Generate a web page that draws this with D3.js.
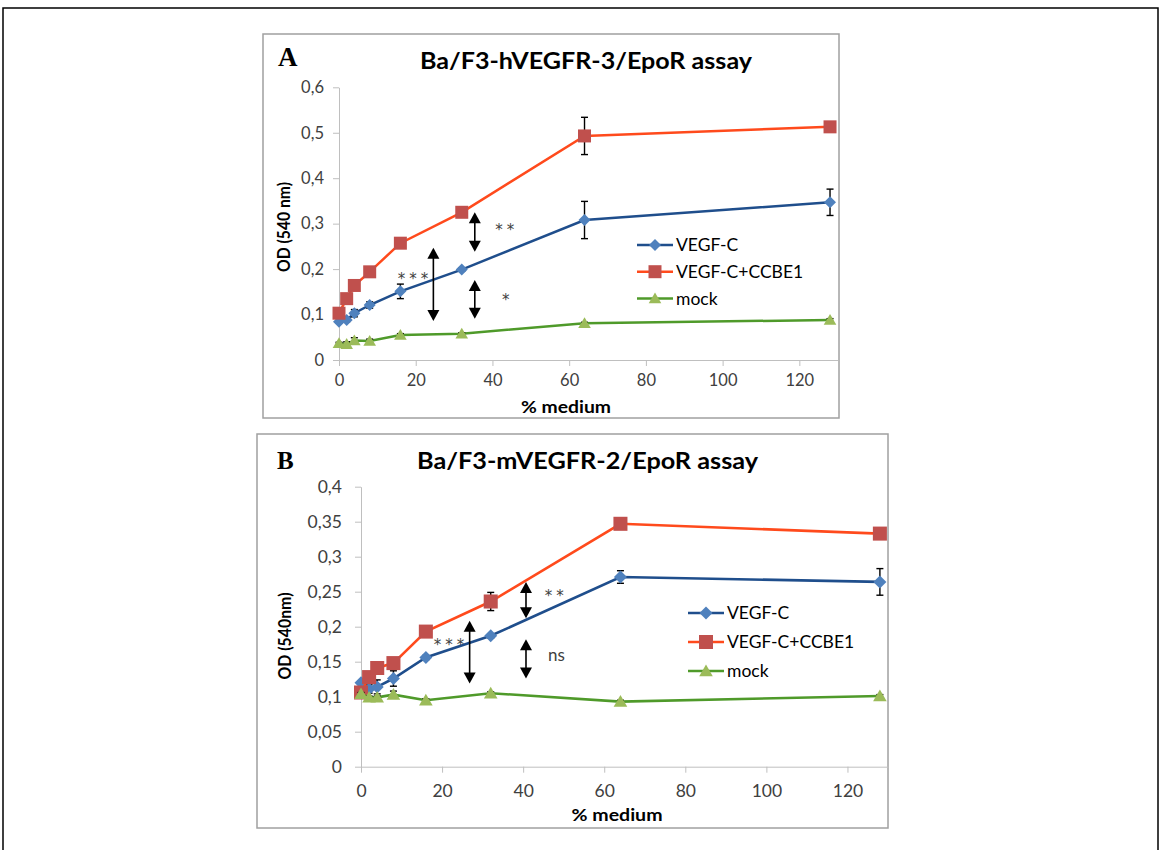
<!DOCTYPE html>
<html>
<head>
<meta charset="utf-8">
<script src="https://cdn.jsdelivr.net/npm/d3@7"></script>
<style>
  body { margin: 0; background: #fff; }
  svg { display: block; }
  text { font-family: Lato, "Open Sans", sans-serif; }
</style>
</head>
<body>
<svg id="chart" width="1161" height="850"></svg>
<script>
const doses = [0, 2, 4, 8, 16, 32, 64, 128];
const seriesNames = ["VEGF-C", "VEGF-C+CCBE1", "mock"];
const xTicks = [0, 20, 40, 60, 80, 100, 120];

// panel A : Ba/F3-hVEGFR-3/EpoR
const aVegfc = [0.084, 0.088, 0.103, 0.121, 0.151, 0.199, 0.308, 0.347];
const aVegfcErr = [0.003, 0.004, 0.008, 0.007, 0.016, 0.004, 0.041, 0.029];
const aCcbe1 = [0.103, 0.135, 0.164, 0.194, 0.257, 0.325, 0.493, 0.513];
const aCcbe1Err = [0.004, 0.004, 0.004, 0.004, 0.004, 0.004, 0.041, 0.004];
const aMock = [0.037, 0.035, 0.043, 0.042, 0.055, 0.058, 0.081, 0.088];
const aMockErr = [0.002, 0.005, 0.006, 0.004, 0.003, 0.002, 0.002, 0.003];
const aYTicks = [0, 0.1, 0.2, 0.3, 0.4, 0.5, 0.6];
const aArrows = [[24.6, 0.247, 0.086], [35.4, 0.325, 0.238], [35.4, 0.176, 0.091]];
const aMarks = [[19.3, 0.188, "***"], [43.2, 0.295, "**"], [43.5, 0.141, "*"]];

// panel B : Ba/F3-mVEGFR-2/EpoR
const bVegfc = [0.120, 0.111, 0.114, 0.126, 0.156, 0.187, 0.271, 0.264];
const bVegfcErr = [0.002, 0.006, 0.010, 0.011, 0.003, 0.003, 0.009, 0.019];
const bCcbe1 = [0.106, 0.128, 0.141, 0.148, 0.193, 0.236, 0.347, 0.333];
const bCcbe1Err = [0.003, 0.003, 0.003, 0.003, 0.008, 0.013, 0.004, 0.007];
const bMock = [0.104, 0.099, 0.099, 0.103, 0.095, 0.105, 0.093, 0.101];
const bMockErr = [0.002, 0.002, 0.002, 0.005, 0.002, 0.002, 0.002, 0.002];
const bYTicks = [0, 0.05, 0.1, 0.15, 0.2, 0.25, 0.3, 0.35, 0.4];
const bArrows = [[26.8, 0.2086, 0.119], [40.7, 0.264, 0.212], [40.7, 0.182, 0.126]];
const bMarks = [[21.7, 0.179, "***"], [47.7, 0.25, "**"], [48.2, 0.16, "ns"]];

const lineColors = ["#1f4e8c", "#ff4a1c", "#4f9a2a"];
const markColors = ["#4f81bd", "#c0504d", "#9bbb59"];

const svg = d3.select("#chart");
const fmt = d => String(+d.toFixed(2)).replace(".", ",");

// outer frame
svg.append("path")
  .attr("d", "M3,850V8H1158V850")
  .attr("fill", "none").attr("stroke", "#000").attr("stroke-width", 1.5);

function markerPath(i, k) {
  if (i === 0) { let h = 6 * k; return `M0,${-h}L${h},0L0,${h}L${-h},0Z`; }
  if (i === 1) { let h = 6.5 * k; return `M${-h},${-h}H${h}V${h}H${-h}Z`; }
  let w = 6.3 * k, t = 6 * k, b = 4.8 * k;
  return `M0,${-t}L${w},${b}H${-w}Z`;
}

function drawPanel(p) {
  const g = svg.append("g");

  g.append("rect")
    .attr("x", p.box[0]).attr("y", p.box[1])
    .attr("width", p.box[2] - p.box[0]).attr("height", p.box[3] - p.box[1])
    .attr("fill", "#fff").attr("stroke", "#a0a0a0").attr("stroke-width", 1.5);

  const x = d3.scaleLinear().domain([0, 130]).range([p.left, p.right]);
  const y = d3.scaleLinear().domain(p.yDomain).range([p.bottom, p.top]);

  const yAxis = g.append("g")
    .attr("transform", `translate(${p.left},0)`)
    .call(d3.axisLeft(y).tickValues(p.yTicks).tickFormat(fmt).tickSize(6).tickSizeOuter(0).tickPadding(p.yPad));
  const xAxis = g.append("g")
    .attr("transform", `translate(0,${p.bottom})`)
    .call(d3.axisBottom(x).tickValues(xTicks).tickSize(6).tickSizeOuter(0).tickPadding(p.xPad));
  [yAxis, xAxis].forEach(a => {
    a.select(".domain").attr("stroke", "#bfbfbf");
    a.selectAll(".tick line").attr("stroke", "#bfbfbf");
    a.selectAll(".tick text").attr("fill", "#404040")
      .style("font-size", p.tickFont + "px").style("font-family", "Lato, sans-serif");
  });

  // letter and title
  g.append("text").attr("x", p.letterX).attr("y", p.letterY)
    .style("font-family", "'Liberation Serif', 'Times New Roman', serif")
    .style("font-weight", "bold").style("font-size", p.letterSize + "px")
    .text(p.letter);
  g.append("text").attr("x", p.titleX).attr("y", p.titleY)
    .attr("text-anchor", "middle")
    .attr("textLength", p.titleLen).attr("lengthAdjust", "spacingAndGlyphs")
    .style("font-weight", "bold").style("font-size", "22px")
    .text(p.title);

  g.append("text")
    .attr("transform", `translate(${p.yLabelX},${p.yLabelY}) rotate(-90)`)
    .attr("text-anchor", "middle")
    .attr("textLength", p.yLabelLen).attr("lengthAdjust", "spacingAndGlyphs")
    .style("font-weight", "bold").style("font-size", "16.5px")
    .text(p.yLabel);
  g.append("text").attr("x", p.xLabelX).attr("y", p.xLabelY)
    .attr("text-anchor", "middle")
    .attr("textLength", p.xLabelLen).attr("lengthAdjust", "spacingAndGlyphs")
    .style("font-weight", "bold").style("font-size", "17px")
    .text("% medium");

  // series
  p.series.forEach((vals, i) => {
    const pts = doses.map((d, j) => ({ d: d, v: vals[j], e: p.errs[i][j] }));
    g.append("path")
      .datum(pts)
      .attr("fill", "none").attr("stroke", lineColors[i]).attr("stroke-width", p.lw)
      .attr("d", d3.line().x(q => x(q.d)).y(q => y(q.v)));

    const eb = g.append("g").attr("stroke", "#000").attr("stroke-width", 1.4);
    pts.forEach(q => {
      const y1 = y(q.v - q.e), y2 = y(q.v + q.e);
      eb.append("line").attr("x1", x(q.d)).attr("x2", x(q.d)).attr("y1", y1).attr("y2", y2);
      eb.append("line").attr("x1", x(q.d) - 3.5).attr("x2", x(q.d) + 3.5).attr("y1", y1).attr("y2", y1);
      eb.append("line").attr("x1", x(q.d) - 3.5).attr("x2", x(q.d) + 3.5).attr("y1", y2).attr("y2", y2);
    });

    g.selectAll(null).data(pts).enter().append("path")
      .attr("transform", q => `translate(${x(q.d)},${y(q.v)})`)
      .attr("d", markerPath(i, p.mk))
      .attr("fill", markColors[i]);
  });

  // significance arrows
  const head = 6, headLen = 11;
  p.arrows.forEach(a => {
    const ax = x(a[0]), yt = y(a[1]), yb = y(a[2]);
    g.append("line").attr("x1", ax).attr("x2", ax).attr("y1", yt + headLen - 1).attr("y2", yb - headLen + 1)
      .attr("stroke", "#000").attr("stroke-width", 1.6);
    g.append("path").attr("d", `M${ax},${yt}L${ax + head},${yt + headLen}H${ax - head}Z`).attr("fill", "#000");
    g.append("path").attr("d", `M${ax},${yb}L${ax + head},${yb - headLen}H${ax - head}Z`).attr("fill", "#000");
  });
  p.marks.forEach(m => {
    const ns = m[2] === "ns";
    g.append("text").attr("x", x(m[0]) + (ns ? 0 : 2)).attr("y", y(m[1]))
      .attr("text-anchor", "middle").attr("dy", ns ? "0.35em" : "0.6em")
      .attr("fill", "#404040")
      .style("font-family", ns ? "Lato, sans-serif" : "'DejaVu Sans', sans-serif")
      .style("font-size", ns ? "17px" : "15px")
      .style("letter-spacing", ns ? "0px" : "4px")
      .text(m[2]);
  });

  // legend
  seriesNames.forEach((name, i) => {
    const ly = p.legY + i * p.legGap;
    g.append("line").attr("x1", p.legX).attr("x2", p.legX + 36).attr("y1", ly).attr("y2", ly)
      .attr("stroke", lineColors[i]).attr("stroke-width", p.lw);
    g.append("path").attr("transform", `translate(${p.legX + 18},${ly})`)
      .attr("d", markerPath(i, p.mk)).attr("fill", markColors[i]);
    g.append("text").attr("x", p.legX + 39).attr("y", ly).attr("dy", "0.36em")
      .style("font-size", "17.5px").attr("fill", "#000")
      .text(name);
  });
}

drawPanel({
  box: [263, 34, 839, 418], left: 339, right: 837.7, top: 87.3, bottom: 360,
  yDomain: [0, 0.6], yTicks: aYTicks, yPad: 9, xPad: 8, tickFont: 16.5,
  letter: "A", letterX: 278, letterY: 66, letterSize: 27,
  title: "Ba/F3-hVEGFR-3/EpoR assay", titleX: 586, titleY: 69, titleLen: 332,
  yLabel: "OD (540 nm)", yLabelX: 290, yLabelY: 227, yLabelLen: 90,
  xLabelX: 566, xLabelY: 413, xLabelLen: 90,
  series: [aVegfc, aCcbe1, aMock], errs: [aVegfcErr, aCcbe1Err, aMockErr],
  arrows: aArrows, marks: aMarks, lw: 2.5, mk: 1,
  legX: 637, legY: 245, legGap: 26.7
});

drawPanel({
  box: [257, 434, 888, 828], left: 361, right: 888, top: 486.7, bottom: 766.7,
  yDomain: [0, 0.4], yTicks: bYTicks, yPad: 13, xPad: 12, tickFont: 17.5,
  letter: "B", letterX: 277, letterY: 469, letterSize: 25,
  title: "Ba/F3-mVEGFR-2/EpoR assay", titleX: 587.5, titleY: 469, titleLen: 341,
  yLabel: "OD (540nm)", yLabelX: 291, yLabelY: 636, yLabelLen: 87,
  xLabelX: 617, xLabelY: 821, xLabelLen: 91,
  series: [bVegfc, bCcbe1, bMock], errs: [bVegfcErr, bCcbe1Err, bMockErr],
  arrows: bArrows, marks: bMarks, lw: 2.6, mk: 1.08,
  legX: 688, legY: 613, legGap: 29
});
</script>
</body>
</html>
